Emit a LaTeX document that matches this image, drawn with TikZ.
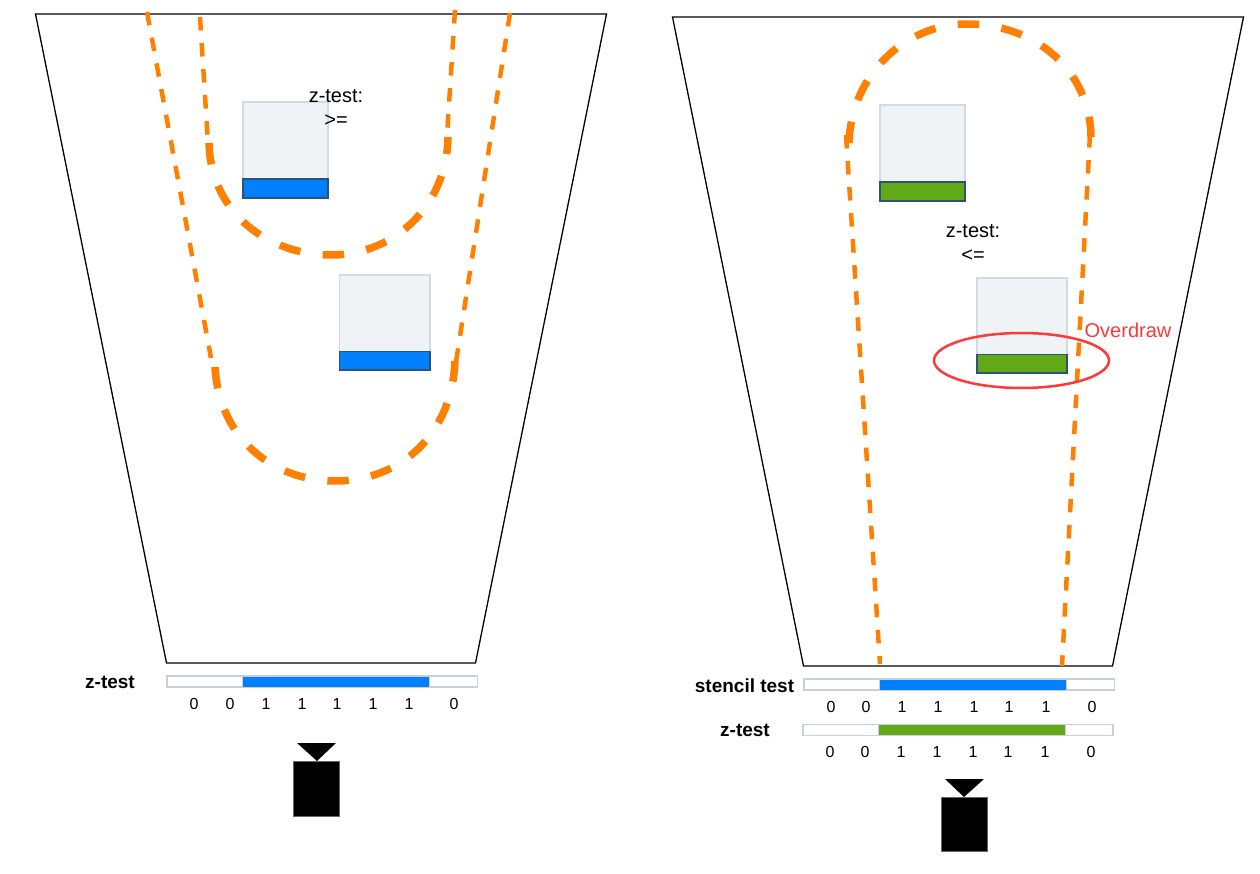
\documentclass[tikz,border=0pt]{standalone}
\usepackage{fontspec}
\setmainfont{Liberation Sans}
\usetikzlibrary{positioning}

\definecolor{zblue}{HTML}{007FFF}
\definecolor{zgreen}{HTML}{62A916}
\definecolor{boxfill}{HTML}{EFF3F6}
\definecolor{boxline}{HTML}{D2DAE2}
\definecolor{footline}{HTML}{2B5278}
\definecolor{barline}{HTML}{C5D1DE}
\definecolor{pathorange}{HTML}{FF8000}
\definecolor{markred}{HTML}{FF3838}

\tikzset{
    frustum/.style={draw=black, line width=1.3pt, line join=miter},
    thinpath/.style={draw=pathorange, line width=4.5pt, dash pattern=on 13.5pt off 12.6pt},
    thickpath/.style={draw=pathorange, line width=7.5pt, dash pattern=on 21.5pt off 22.5pt},
    lightbox/.style={fill=boxfill, draw=boxline, line width=1.3pt},
    bluefoot/.style={fill=zblue, draw=footline, line width=1.3pt},
    greenfoot/.style={fill=zgreen, draw=footline, line width=1.3pt},
    barback/.style={fill=white, draw=barline, line width=1.5pt},
    barblue/.style={fill=zblue, draw=barline, line width=1pt},
    bargreen/.style={fill=zgreen, draw=barline, line width=1pt},
    viewer/.style={fill=black, draw=black!60, line width=0.6pt},
    note/.style={font=\fontsize{20}{24}\selectfont, inner sep=0pt, align=center},
    barlabel/.style={font=\fontsize{19}{22}\selectfont\bfseries, inner sep=0pt},
    digit/.style={font=\fontsize{16}{19}\selectfont, inner sep=0pt}
}

\begin{document}
\begin{tikzpicture}[x=1pt, y=-1pt]
    \useasboundingbox (0,0) rectangle (1260,874);

    \draw[frustum] (35.5,14) -- (606.5,14) -- (475.5,663) -- (166.5,663) -- cycle;
    \draw[frustum] (672.5,17) -- (1243.5,17) -- (1112.5,666) -- (803.5,666) -- cycle;

    \draw[lightbox] (243,102) rectangle (328,198);
    \draw[bluefoot] (243,179) rectangle (328,198);
    \draw[lightbox] (339.5,275) rectangle (430,370);
    \draw[bluefoot] (339.5,351.5) rectangle (430,370);
    \draw[lightbox] (880,105) rectangle (965,201);
    \draw[greenfoot] (880,182) rectangle (965,201);
    \draw[lightbox] (977,278) rectangle (1067,373);
    \draw[greenfoot] (977,354.5) rectangle (1067,373);

    \draw[thinpath] (147,12) -- (211,358);
    \draw[thinpath] (510,13) -- (456,362);
    \draw[thinpath] (200,17) -- (207.5,135);
    \draw[thinpath] (455,10) -- (447.5,128);
    \draw[thinpath] (846,135) -- (880,664);
    \draw[thinpath] (1090,134) -- (1062,666);

    \draw[thickpath] (209,143) .. controls (211,215) and (270,255) .. (331,255) .. controls (395,255) and (447,205) .. (448,137);
    \draw[thickpath] (215,367) .. controls (219,440) and (275,481) .. (335,481) .. controls (400,481) and (452,435) .. (455,361);
    \draw[thickpath] (849,143) .. controls (851,75) and (905,24) .. (967,24) .. controls (1035,24) and (1090,70) .. (1091,137);

    \draw[markred, line width=2.5pt] (1021.5,360.5) ellipse [x radius=87.5, y radius=27.5];
    \node[note, text=markred] (overdraw) at (1128,330) {Overdraw};

    \node[note] (zgequal) at (336,108.5) {z-test:\\>=};
    \node[note] (zlequal) at (973,243) {z-test:\\<=};

    \draw[barback] (167,676) rectangle (477.5,687);
    \draw[barblue] (242.5,676) rectangle (429,687);
    \draw[barback] (804,679) rectangle (1114.5,690);
    \draw[barblue] (879.5,679) rectangle (1066,690);
    \draw[barback] (803,724.5) rectangle (1113,735.5);
    \draw[bargreen] (878.5,724.5) rectangle (1065,735.5);

    \node[barlabel] (ztestleft) at (110,682.5) {z-test};
    \node[barlabel] (stenciltest) at (744.5,685.5) {stencil test};
    \node[barlabel] (ztestright) at (745,730.5) {z-test};

    \foreach \x/\v in {194/0,230/0,266/1,302/1,337/1,373/1,409/1,454/0}
        \node[digit] (a\x) at (\x,703.5) {\v};
    \foreach \x/\v in {831/0,866/0,902/1,938/1,974/1,1009/1,1046/1,1092/0}
        \node[digit] (b\x) at (\x,706.5) {\v};
    \foreach \x/\v in {830/0,865/0,901/1,937/1,973/1,1008/1,1045/1,1091/0}
        \node[digit] (c\x) at (\x,751.5) {\v};

    \fill[black] (297,743) -- (336,743) -- (317,761) -- cycle;
    \draw[viewer] (293.3,761.3) rectangle (339.7,816.7);
    \fill[black] (945,779) -- (984,779) -- (964,797) -- cycle;
    \draw[viewer] (941.3,797.3) rectangle (987.3,851.7);
\end{tikzpicture}
\end{document}
